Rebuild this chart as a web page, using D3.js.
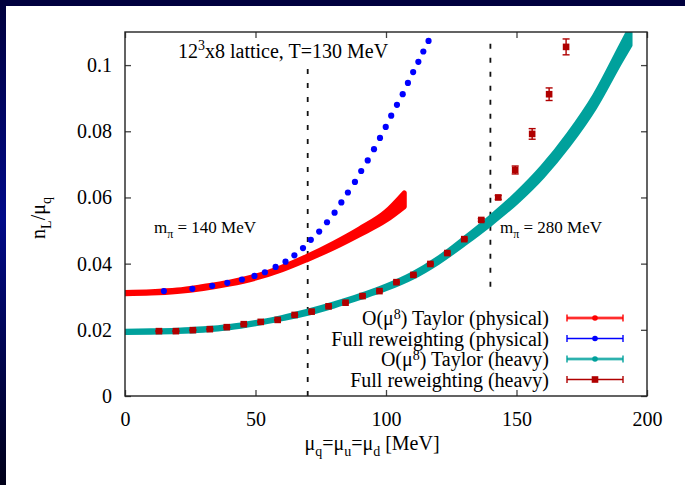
<!DOCTYPE html>
<html><head><meta charset="utf-8">
<script src="https://cdn.jsdelivr.net/npm/d3@7"></script>
<style>
body{margin:0;background:#fff;}
svg{display:block;}
text{font-family:"Liberation Serif","Times New Roman",serif;fill:#000;}
</style></head><body>
<svg id="c" width="685" height="485"></svg>
<script>
// ---- data ----
const xTicks = [0, 50, 100, 150, 200];
const yTicks = [0, 0.02, 0.04, 0.06, 0.08, 0.1];
const yTickLabels = ["0", "0.02", "0.04", "0.06", "0.08", "0.1"];

// O(mu^8) Taylor (physical) band
const muTaylorPhys = [0, 10, 20, 30, 40, 50, 60, 70, 80, 90, 100, 107];
const nTaylorPhys  = [0.0311, 0.0313, 0.0318, 0.0328, 0.0341, 0.0359, 0.0385, 0.0418, 0.0455, 0.0497, 0.0544, 0.0593];
const eTaylorPhys  = [0.0002, 0.0002, 0.0002, 0.0003, 0.0003, 0.0003, 0.0004, 0.0005, 0.0007, 0.0009, 0.0013, 0.0021];

// Full reweighting (physical)
const muRewPhys = [14.9, 25.8, 33.4, 39.2, 44.8, 49.6, 53.6, 57.7, 61.5, 64.9, 68.2, 71.2, 74.4, 77.4, 80.3, 82.9, 85.4, 88.1, 90.5, 93.0, 95.4, 97.7, 99.9, 102.0, 104.2, 106.4, 108.4, 110.4, 112.4, 114.3, 116.3];
const nRewPhys  = [0.0317, 0.0324, 0.0333, 0.0342, 0.0352, 0.0363, 0.0374, 0.0390, 0.0406, 0.0425, 0.0447, 0.0472, 0.0497, 0.0525, 0.0554, 0.0585, 0.0615, 0.0647, 0.0680, 0.0712, 0.0746, 0.0780, 0.0813, 0.0847, 0.0880, 0.0912, 0.0946, 0.0979, 0.1010, 0.1041, 0.1073];

// O(mu^8) Taylor (heavy) band
const muTaylorHeavy = [0, 10, 20, 30, 40, 50, 60, 70, 80, 90, 100, 110, 120, 130, 140, 150, 160, 170, 180, 190, 193.5];
const nTaylorHeavy  = [0.0194, 0.0195, 0.0197, 0.0201, 0.0208, 0.0220, 0.0235, 0.0253, 0.0275, 0.0300, 0.0328, 0.0363, 0.0410, 0.0468, 0.0530, 0.0598, 0.0678, 0.0775, 0.0890, 0.1035, 0.1085];
const eTaylorHeavy  = [0.0002, 0.0002, 0.0002, 0.0002, 0.0002, 0.0002, 0.0002, 0.0003, 0.0003, 0.0003, 0.0004, 0.0005, 0.0006, 0.0008, 0.0010, 0.0012, 0.0014, 0.0016, 0.0018, 0.0022, 0.0025];

// Full reweighting (heavy)
const muRewHeavy = [13, 19.5, 26, 32.5, 39, 45.5, 52, 58.5, 65, 71.5, 78, 84.5, 91, 97.5, 104, 110.5, 117, 123.5, 130, 136.5, 143, 149.5, 156, 162.5, 169];
const nRewHeavy  = [0.0196, 0.0196, 0.0199, 0.0202, 0.0208, 0.0217, 0.0224, 0.0230, 0.0245, 0.0255, 0.0271, 0.0282, 0.0302, 0.0317, 0.0344, 0.0366, 0.0399, 0.0432, 0.0474, 0.0532, 0.0600, 0.0683, 0.0792, 0.0912, 0.1055];
const eRewHeavy  = [0.0001, 0.0001, 0.0001, 0.0001, 0.0001, 0.0001, 0.0001, 0.0001, 0.0001, 0.0001, 0.0001, 0.0001, 0.0001, 0.0001, 0.0002, 0.0002, 0.0002, 0.0003, 0.0003, 0.0004, 0.0006, 0.0012, 0.0016, 0.0019, 0.0024];

const vLines = [{mu: 70, lo: 0, hi: 0.099}, {mu: 140, lo: 0.033, hi: 0.1067}];

const legendLabels = [
  [{t: "O(μ"}, {t: "8", sup: true}, {t: ") Taylor (physical)"}],
  [{t: "Full reweighting (physical)"}],
  [{t: "O(μ"}, {t: "8", sup: true}, {t: ") Taylor (heavy)"}],
  [{t: "Full reweighting (heavy)"}]
];

// ---- drawing ----
const svg = d3.select("#c");
const W = 685, H = 485;
const L = 125, R = 647, T = 32, B = 396;
const x = d3.scaleLinear().domain([0, 200]).range([L, R]);
const y = d3.scaleLinear().domain([0, 0.11]).range([B, T]);

const RED = "#ff0000", BLUE = "#0000ff", TEAL = "#00a19c", DRED = "#b00000";

// background frame
const defs = svg.append("defs");
const g1 = defs.append("linearGradient").attr("id", "lg").attr("x1", 0).attr("y1", 0).attr("x2", 0).attr("y2", 1);
g1.append("stop").attr("offset", "0%").attr("stop-color", "#00003c");
g1.append("stop").attr("offset", "45%").attr("stop-color", "#000a88");
g1.append("stop").attr("offset", "100%").attr("stop-color", "#000018");
svg.append("rect").attr("x", 0).attr("y", 0).attr("width", W).attr("height", H).attr("fill", "#fff");
svg.append("rect").attr("x", 0).attr("y", 0).attr("width", W).attr("height", 6).attr("fill", "#00003e");
svg.append("rect").attr("x", 0).attr("y", 0).attr("width", 6).attr("height", H).attr("fill", "url(#lg)");

defs.append("clipPath").attr("id", "clip").append("rect")
  .attr("x", L).attr("y", T).attr("width", R - L).attr("height", B - T);

// axes (ticks inward, mirrored)
function styleAxis(g) {
  g.select(".domain").remove();
  g.selectAll(".tick line").attr("stroke", "#444").attr("stroke-width", 1.3);
  g.selectAll(".tick text").attr("font-size", 20).attr("font-family", "Liberation Serif, serif").attr("fill", "#000");
}
svg.append("g").attr("transform", `translate(0,${B})`)
  .call(d3.axisBottom(x).tickValues(xTicks).tickSize(-6).tickPadding(16).tickFormat(d3.format("d")))
  .call(styleAxis);
svg.append("g").attr("transform", `translate(0,${T})`)
  .call(d3.axisTop(x).tickValues(xTicks).tickSize(-6).tickFormat(""))
  .call(styleAxis);
svg.append("g").attr("transform", `translate(${L},0)`)
  .call(d3.axisLeft(y).tickValues(yTicks).tickSize(-6).tickPadding(13).tickFormat((d, i) => yTickLabels[i]))
  .call(styleAxis);
svg.append("g").attr("transform", `translate(${R},0)`)
  .call(d3.axisRight(y).tickValues(yTicks).tickSize(-6).tickFormat(""))
  .call(styleAxis);

// dashed vertical lines
svg.append("g").selectAll("line").data(vLines).join("line")
  .attr("x1", d => x(d.mu)).attr("x2", d => x(d.mu))
  .attr("y1", d => y(d.lo)).attr("y2", d => y(d.hi))
  .attr("stroke", "#111").attr("stroke-width", 1.8).attr("stroke-dasharray", "5,9");

const plot = svg.append("g").attr("clip-path", "url(#clip)");

const area = d3.area()
  .x(d => x(d.mu)).y0(d => y(d.n - d.e)).y1(d => y(d.n + d.e))
  .curve(d3.curveMonotoneX);

const heavyBand = muTaylorHeavy.map((m, i) => ({mu: m, n: nTaylorHeavy[i], e: eTaylorHeavy[i]}));
const physBand = muTaylorPhys.map((m, i) => ({mu: m, n: nTaylorPhys[i], e: eTaylorPhys[i]}));

plot.append("path").datum(heavyBand).attr("d", area)
  .attr("fill", TEAL).attr("stroke", TEAL).attr("stroke-width", 5).attr("stroke-linejoin", "round");
plot.append("path").datum(physBand).attr("d", area)
  .attr("fill", RED).attr("stroke", RED).attr("stroke-width", 5).attr("stroke-linejoin", "round");

// reweighting heavy: error bars + squares
const heavyPts = muRewHeavy.map((m, i) => ({mu: m, n: nRewHeavy[i], e: eRewHeavy[i]}));
const eb = plot.append("g").attr("stroke", DRED).attr("stroke-width", 1.4);
heavyPts.forEach(d => {
  const cx = x(d.mu), y0 = y(d.n - d.e), y1 = y(d.n + d.e);
  eb.append("line").attr("x1", cx).attr("x2", cx).attr("y1", y0).attr("y2", y1);
  eb.append("line").attr("x1", cx - 3.5).attr("x2", cx + 3.5).attr("y1", y0).attr("y2", y0);
  eb.append("line").attr("x1", cx - 3.5).attr("x2", cx + 3.5).attr("y1", y1).attr("y2", y1);
});
plot.append("g").selectAll("rect").data(heavyPts).join("rect")
  .attr("x", d => x(d.mu) - 3.3).attr("y", d => y(d.n) - 3.3)
  .attr("width", 6.6).attr("height", 6.6).attr("fill", DRED);

// reweighting physical: blue dots
const physPts = muRewPhys.map((m, i) => ({mu: m, n: nRewPhys[i]}));
plot.append("g").selectAll("circle").data(physPts).join("circle")
  .attr("cx", d => x(d.mu)).attr("cy", d => y(d.n)).attr("r", 3.1).attr("fill", BLUE);

// frame
svg.append("rect").attr("x", L).attr("y", T).attr("width", R - L).attr("height", B - T)
  .attr("fill", "none").attr("stroke", "#222").attr("stroke-width", 1.4);

// rich text helper
function rich(sel, parts, size, supShift) {
  let shift = 0;
  parts.forEach(p => {
    const target = p.sub ? 0.3 * size : (p.sup ? -(supShift || 0.42) * size : 0);
    sel.append("tspan").attr("dy", target - shift)
      .attr("font-size", (p.sub || p.sup) ? 0.7 * size : size).text(p.t);
    shift = target;
  });
}

// annotations
rich(svg.append("text").attr("x", 178).attr("y", 58).attr("font-size", 20),
  [{t: "12"}, {t: "3", sup: true}, {t: "x8 lattice, T=130 MeV"}], 20);
rich(svg.append("text").attr("x", 154).attr("y", 233).attr("font-size", 17),
  [{t: "m"}, {t: "π", sub: true}, {t: " = 140 MeV"}], 17);
rich(svg.append("text").attr("x", 500).attr("y", 233).attr("font-size", 17),
  [{t: "m"}, {t: "π", sub: true}, {t: " = 280 MeV"}], 17);

// axis labels
rich(svg.append("text").attr("x", (L + R) / 2 - 14).attr("y", 450).attr("text-anchor", "middle").attr("font-size", 20),
  [{t: "μ"}, {t: "q", sub: true}, {t: "=μ"}, {t: "u", sub: true}, {t: "=μ"}, {t: "d", sub: true}, {t: " [MeV]"}], 20);
rich(svg.append("text").attr("transform", `translate(45,${(T + B) / 2 + 4}) rotate(-90)`).attr("text-anchor", "middle").attr("font-size", 20),
  [{t: "n"}, {t: "L", sub: true}, {t: "/μ"}, {t: "q", sub: true}], 20);

// legend
const legY = [318, 338.5, 359, 379.5];
const legStyles = [
  {c: RED, halo: true, m: "circle"},
  {c: BLUE, halo: false, m: "circle"},
  {c: TEAL, halo: true, m: "circle"},
  {c: DRED, halo: false, m: "square"}
];
legendLabels.forEach((parts, i) => {
  const yy = legY[i], s = legStyles[i];
  rich(svg.append("text").attr("x", 549).attr("y", yy + 7).attr("text-anchor", "end").attr("font-size", 20), parts, 20, 0.3);
  const lg = svg.append("g");
  if (s.halo) {
    lg.append("line").attr("x1", 567).attr("x2", 623).attr("y1", yy).attr("y2", yy)
      .attr("stroke", s.c).attr("stroke-width", 4).attr("stroke-opacity", 0.3);
  }
  lg.append("line").attr("x1", 567).attr("x2", 623).attr("y1", yy).attr("y2", yy)
    .attr("stroke", s.c).attr("stroke-width", 1.4);
  [567, 623].forEach(xx => lg.append("line").attr("x1", xx).attr("x2", xx)
    .attr("y1", yy - 3.5).attr("y2", yy + 3.5).attr("stroke", s.c).attr("stroke-width", 1.4));
  if (s.m === "circle") lg.append("circle").attr("cx", 595).attr("cy", yy).attr("r", 2.8).attr("fill", s.c);
  else lg.append("rect").attr("x", 595 - 3.3).attr("y", yy - 3.3).attr("width", 6.6).attr("height", 6.6).attr("fill", s.c);
});
</script></body></html>
